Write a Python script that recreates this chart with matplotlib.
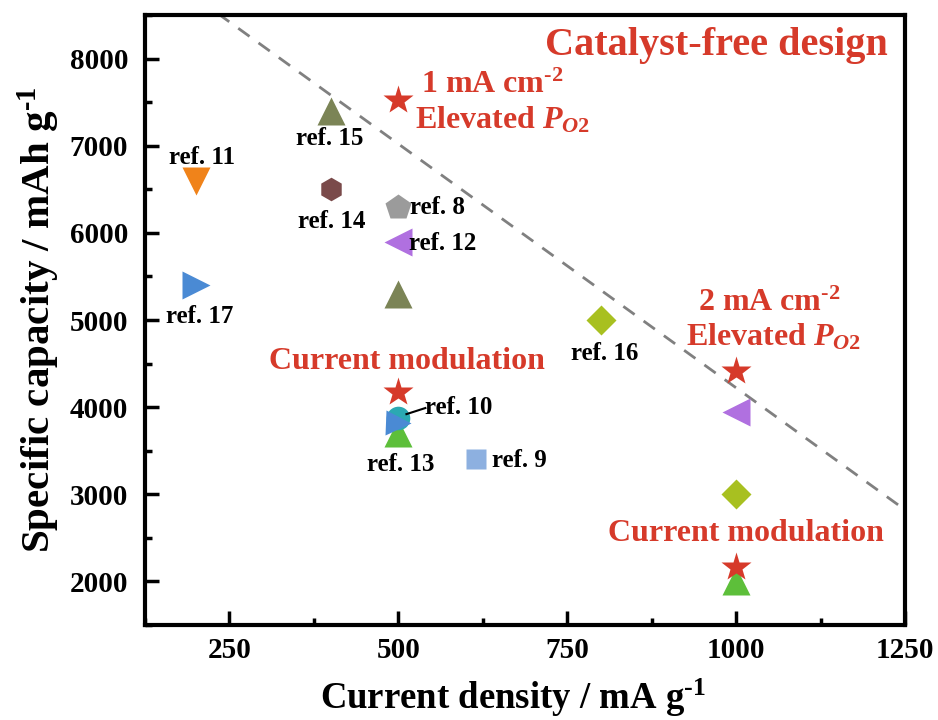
import matplotlib
matplotlib.use("Agg")
import matplotlib.pyplot as plt
from matplotlib.ticker import MultipleLocator

plt.rcParams['font.family'] = ['Liberation Serif', 'DejaVu Serif']
plt.rcParams['font.weight'] = 'bold'
plt.rcParams['mathtext.fontset'] = 'custom'
plt.rcParams['mathtext.rm'] = 'Liberation Serif:bold'
plt.rcParams['mathtext.it'] = 'Liberation Serif:bold:italic'
plt.rcParams['mathtext.bf'] = 'Liberation Serif:bold'

# Literature points: current density, capacity, marker, colour
ref_labels = ["ref. 11", "ref. 17", "ref. 15", "ref. 14", "ref. 8", "ref. 12",
              "", "ref. 10", "", "ref. 13", "ref. 9", "ref. 16", "", "", ""]
ref_x = [200, 200, 400, 400, 500, 500, 500, 500, 500, 500, 615, 800, 1000, 1000, 1000]
ref_y = [6600, 5400, 7400, 6500, 6300, 5900, 5300, 3880, 3820, 3700, 3410, 5000, 3950, 3000, 2000]
ref_markers = ["v", ">", "^", "h", "p", "<", "^", "o", ">", "^", "s", "D", "<", "D", "^"]
ref_colors = ["#F0831A", "#4A8AD4", "#7B8456", "#7A4A4A", "#9B9B9B", "#B070E0",
              "#7B8456", "#2BA9B2", "#4A8AD4", "#5DBF3A", "#8DB0E0", "#A8C020",
              "#B070E0", "#A8C020", "#5DBF3A"]
ref_sizes = [20, 20, 20, 17, 19, 20, 20, 17, 18, 20, 14, 15, 20, 15, 20]

# This work (catalyst-free)
work_x = [500, 500, 1000, 1000]
work_y = [7520, 4170, 4420, 2170]

# Upper bound guide line
guide_x = [100, 1300]
guide_y = [9262, 2542]

red = "#D63A2A"

fig = plt.figure(figsize=(9.38, 7.2), dpi=100)
ax = fig.add_axes([0.1546, 0.132, 0.8102, 0.847])

ax.plot(guide_x, guide_y, ls=(0, (5, 4)), color="#808080", lw=2, zorder=1)

# drawing order keeps the overlapping cluster at 500 mA/g stacked correctly
order = [9, 7, 8, 0, 1, 2, 3, 4, 5, 6, 10, 11, 12, 13, 14]
for i in order:
    ax.plot(ref_x[i], ref_y[i], marker=ref_markers[i], ms=ref_sizes[i],
            color=ref_colors[i], mec="none", ls="none", zorder=3)

ax.plot(work_x, work_y, marker="*", ms=22, color=red, mec="none", ls="none", zorder=4)

# reference labels
lab_fs = 18
def lab(x, y, s, ha="center"):
    ax.text(x, y, s, ha=ha, va="center", fontsize=lab_fs, fontweight="bold", color="black", zorder=5)

lab(209, 6865, "ref. 11")
lab(399, 7083, "ref. 15")
lab(402, 6131, "ref. 14")
lab(518, 6291, "ref. 8", ha="left")
lab(516, 5878, "ref. 12", ha="left")
lab(206, 5041, "ref. 17")
lab(805, 4617, "ref. 16")
lab(540, 3998, "ref. 10", ha="left")
lab(503, 3344, "ref. 13")
lab(638, 3390, "ref. 9", ha="left")
ax.plot([512, 540], [3920, 3990], color="black", lw=1.5, zorder=5)

# red annotations
ann_fs = 23
ax.text(1225, 8150, "Catalyst-free design", ha="right", va="center", fontsize=29,
        fontweight="bold", color=red)
ax.text(533, 7690, r"1 mA cm$^{\text{-2}}$", ha="left", va="center", fontsize=ann_fs,
        fontweight="bold", color=red)
ax.text(525, 7289, r"Elevated $P_{O2}$", ha="left", va="center", fontsize=ann_fs,
        fontweight="bold", color=red)
ax.text(1049, 5190, r"2 mA cm$^{\text{-2}}$", ha="center", va="center", fontsize=ann_fs,
        fontweight="bold", color=red)
ax.text(1056, 4800, r"Elevated $P_{O2}$", ha="center", va="center", fontsize=ann_fs,
        fontweight="bold", color=red)
ax.text(512, 4525, "Current modulation", ha="center", va="center", fontsize=ann_fs,
        fontweight="bold", color=red)
ax.text(1014, 2553, "Current modulation", ha="center", va="center", fontsize=ann_fs,
        fontweight="bold", color=red)

ax.set_xlim(125, 1250)
ax.set_ylim(1500, 8500)
ax.xaxis.set_minor_locator(MultipleLocator(125))
ax.yaxis.set_minor_locator(MultipleLocator(500))
ax.set_xticks([250, 500, 750, 1000, 1250])
ax.set_yticks([2000, 3000, 4000, 5000, 6000, 7000, 8000])
ax.tick_params(which="both", direction="in", top=False, right=False, width=2.5,
               labelsize=21, pad=12)
ax.tick_params(axis="x", which="both", pad=9)
ax.tick_params(which="major", length=10)
ax.tick_params(which="minor", length=5)
for lbl in ax.get_xticklabels() + ax.get_yticklabels():
    lbl.set_fontweight("bold")
for sp in ax.spines.values():
    sp.set_linewidth(3)

ax.set_xlabel(r"Current density / mA g$^{\text{-1}}$", fontsize=26.5, fontweight="bold")
ax.set_ylabel(r"Specific capacity / mAh g$^{\text{-1}}$", fontsize=29.5, fontweight="bold", labelpad=6)
ax.xaxis.set_label_coords(0.484, -0.085)

fig.savefig("out.png", dpi=100)
